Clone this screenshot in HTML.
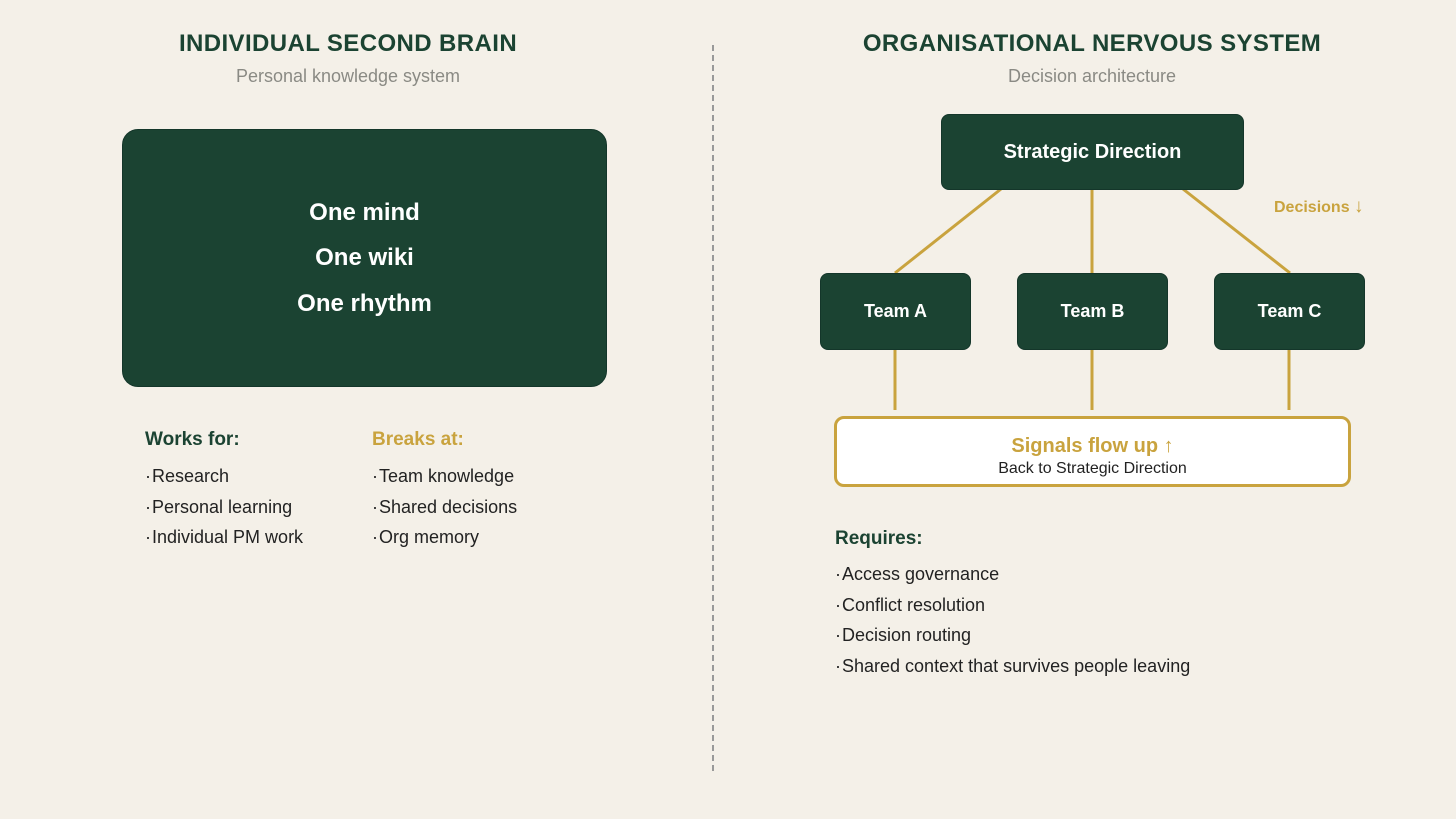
<!DOCTYPE html>
<html><head><meta charset="utf-8"><style>
*{margin:0;padding:0;box-sizing:border-box}
body{width:1456px;height:819px;background:#f4f0e8;font-family:"Liberation Sans",sans-serif;position:relative;overflow:hidden}
.a{position:absolute}
.t{font-weight:bold;color:#1b4332;font-size:24px;text-align:center;width:700px;letter-spacing:0.4px}
.s{color:#8a8a84;font-size:18px;text-align:center;width:700px}
.box{background:#1b4332;border-radius:8px;color:#fff;font-weight:bold;display:flex;align-items:center;justify-content:center;border:1px solid #14362a}
.h{font-weight:bold;font-size:19px}
.li{font-size:18px;color:#222;line-height:30.5px}
.li b{font-weight:normal;letter-spacing:-2px}
</style></head><body>
<div class="a t" style="left:-2px;top:30px">INDIVIDUAL SECOND BRAIN</div>
<div class="a s" style="left:-2px;top:66px">Personal knowledge system</div>
<div class="a t" style="left:742px;top:30px">ORGANISATIONAL NERVOUS SYSTEM</div>
<div class="a s" style="left:742px;top:66px">Decision architecture</div>

<div class="a" style="left:712px;top:45px;height:730px;width:1.5px;background:repeating-linear-gradient(to bottom,#999 0 6px,transparent 6px 10px)"></div>

<div class="a box" style="left:122px;top:129px;width:485px;height:258px;border-radius:16px;flex-direction:column;font-size:24px;line-height:45.5px">
<div>One mind</div><div>One wiki</div><div>One rhythm</div></div>

<div class="a h" style="left:145px;top:429px;color:#1b4332">Works for:</div>
<div class="a li" style="left:145px;top:461px"><b>· </b>Research<br><b>· </b>Personal learning<br><b>· </b>Individual PM work</div>
<div class="a h" style="left:372px;top:429px;color:#c9a33e">Breaks at:</div>
<div class="a li" style="left:372px;top:461px"><b>· </b>Team knowledge<br><b>· </b>Shared decisions<br><b>· </b>Org memory</div>

<svg class="a" style="left:0;top:0" width="1456" height="819">
<g stroke="#c9a33e" stroke-width="3">
<line x1="1001" y1="189" x2="895" y2="273"/>
<line x1="1092" y1="189" x2="1092" y2="273"/>
<line x1="1183" y1="189" x2="1290" y2="273"/>
<line x1="895" y1="349" x2="895" y2="410"/>
<line x1="1092" y1="349" x2="1092" y2="410"/>
<line x1="1289" y1="349" x2="1289" y2="410"/>
</g></svg>

<div class="a box" style="left:941px;top:114px;width:303px;height:76px;font-size:20px">Strategic Direction</div>
<div class="a box" style="left:820px;top:273px;width:151px;height:77px;font-size:18px">Team A</div>
<div class="a box" style="left:1017px;top:273px;width:151px;height:77px;font-size:18px">Team B</div>
<div class="a box" style="left:1214px;top:273px;width:151px;height:77px;font-size:18px">Team C</div>
<div class="a" style="left:1274px;top:196px;color:#c9a33e;font-weight:bold;font-size:16px">Decisions <span style="font-size:19px">↓</span></div>

<div class="a" style="left:834px;top:416px;width:517px;height:71px;background:#fff;border:3px solid #c9a33e;border-radius:10px;text-align:center">
<div style="color:#c9a33e;font-weight:bold;font-size:20px;margin-top:16px">Signals flow up ↑</div>
<div style="font-size:16px;color:#222;margin-top:2px">Back to Strategic Direction</div></div>

<div class="a h" style="left:835px;top:528px;color:#1b4332">Requires:</div>
<div class="a li" style="left:835px;top:559px"><b>· </b>Access governance<br><b>· </b>Conflict resolution<br><b>· </b>Decision routing<br><b>· </b>Shared context that survives people leaving</div>
</body></html>
